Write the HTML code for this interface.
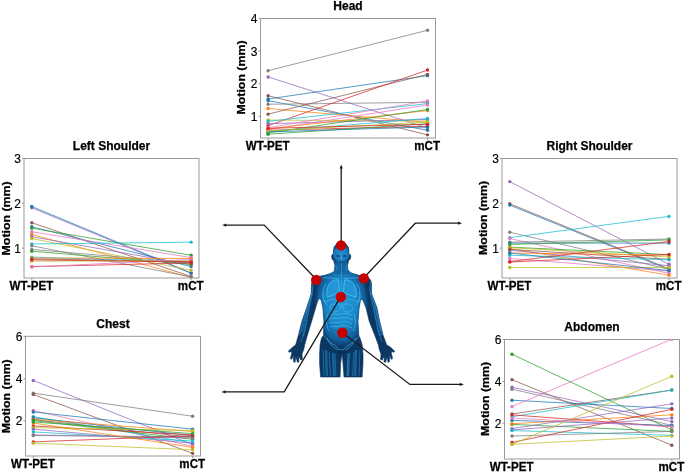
<!DOCTYPE html>
<html><head><meta charset="utf-8"><title>Motion figure</title>
<style>
html,body{margin:0;padding:0;background:#fff;}
body{width:685px;height:472px;overflow:hidden;}
svg{display:block;will-change:transform;}
text{font-family:"Liberation Sans", sans-serif;fill:#000;}
.tk{font-size:12px;stroke:#000;stroke-width:0.15px;}
.ti{font-size:12px;font-weight:bold;stroke:#000;stroke-width:0.25px;}
.xl{font-size:11.6px;font-weight:bold;stroke:#000;stroke-width:0.25px;}
.yl{font-size:10.6px;font-weight:bold;stroke:#000;stroke-width:0.25px;}
</style></head><body>
<svg width="685" height="472" viewBox="0 0 685 472">
<rect width="685" height="472" fill="#fff"/>
<defs><clipPath id="bc"><path d="M341.2,242.3 L345.5,243.5 L348.3,247 L349,251 L348.9,254.5 L350.3,254.5 L350.8,256.5 L350.2,259.5 L348.7,260 L348.2,263 L347.4,265.5 L347.8,268.5 L348.5,271 L352,273.3 L358,275 L363,276.2 L368,277 L370.8,280.5 L371.5,284.1 L371.6,293.8 L376.9,307.6 L379.7,321.4 L383.1,335.2 L386.6,344.8 L389.5,346.5 L392,348.5 L394.5,351 L394,352.3 L391.8,351.5 L391.2,353 L392.6,358.6 L391.2,359.3 L389.6,355 L389.4,361.8 L387.9,362.3 L387.2,356.5 L385.6,362.3 L384,362 L384.3,356 L382.2,360 L380.6,359.6 L381,354 L379.3,349.5 L378.3,344.8 L374.8,335.2 L369.3,321.4 L365.9,307.6 L363.1,300.7 L360.5,298.5 L360.4,300.7 L359.2,307.6 L358.0,321.4 L358.8,335.2 L360.7,340 L362.1,344.5 L363,354.1 L363,363.6 L362.1,377 L344,377 L343,363.6 L342,352.6 L340.6,363.6 L340.1,377 L320.6,377 L319.6,363.6 L319.6,354.1 L320.1,344.5 L321.5,338 L323.5,335.2 L323.9,321.4 L322.8,307.6 L321.3,300.7 L319.8,298 L317.8,300.7 L315.7,307.6 L311.6,321.4 L307.4,335.2 L304.7,344.8 L303.7,349.5 L302,354 L302.4,359.6 L300.8,360 L298.7,356 L299,362 L297.4,362.3 L295.8,356.5 L295.1,362.3 L293.6,361.8 L293.4,355 L291.8,359.3 L290.4,358.6 L291.8,353 L291.2,351.5 L289,352.3 L288.5,351 L291,348.5 L293.5,346.5 L295.7,344.8 L298.4,335.2 L301.9,321.4 L306.7,307.6 L311.2,293.8 L311.5,284.1 L312.5,280.5 L314.8,277.5 L319,276.4 L325,275.2 L330.5,273.4 L334.2,271.5 L334.6,268.5 L335.0,265.5 L334.2,263 L333.6,260 L332.2,259.5 L331.6,256.5 L332.1,254.5 L333.4,254.5 L333.4,251 L334.1,247 L336.9,243.5 Z"/></clipPath><radialGradient id="tor" cx="341.5" cy="303" r="34" gradientUnits="userSpaceOnUse" gradientTransform="translate(341.5 303) scale(0.8 1.3) translate(-341.5 -303)"><stop offset="0" stop-color="#2398d6"/><stop offset="0.55" stop-color="#1c86c8"/><stop offset="0.85" stop-color="#1466a6" stop-opacity="0.85"/><stop offset="1" stop-color="#125e9c" stop-opacity="0"/></radialGradient><radialGradient id="hd" cx="341.2" cy="254" r="10" gradientUnits="userSpaceOnUse"><stop offset="0" stop-color="#2290d0"/><stop offset="0.7" stop-color="#1a78b8"/><stop offset="1" stop-color="#135c98" stop-opacity="0"/></radialGradient><linearGradient id="armL" x1="0" y1="0" x2="1" y2="0"><stop offset="0" stop-color="#0d3e6e" stop-opacity="0"/><stop offset="0.5" stop-color="#1a6cab" stop-opacity="0.8"/><stop offset="1" stop-color="#0d3e6e" stop-opacity="0"/></linearGradient></defs>
<path d="M341.2,242.3 L345.5,243.5 L348.3,247 L349,251 L348.9,254.5 L350.3,254.5 L350.8,256.5 L350.2,259.5 L348.7,260 L348.2,263 L347.4,265.5 L347.8,268.5 L348.5,271 L352,273.3 L358,275 L363,276.2 L368,277 L370.8,280.5 L371.5,284.1 L371.6,293.8 L376.9,307.6 L379.7,321.4 L383.1,335.2 L386.6,344.8 L389.5,346.5 L392,348.5 L394.5,351 L394,352.3 L391.8,351.5 L391.2,353 L392.6,358.6 L391.2,359.3 L389.6,355 L389.4,361.8 L387.9,362.3 L387.2,356.5 L385.6,362.3 L384,362 L384.3,356 L382.2,360 L380.6,359.6 L381,354 L379.3,349.5 L378.3,344.8 L374.8,335.2 L369.3,321.4 L365.9,307.6 L363.1,300.7 L360.5,298.5 L360.4,300.7 L359.2,307.6 L358.0,321.4 L358.8,335.2 L360.7,340 L362.1,344.5 L363,354.1 L363,363.6 L362.1,377 L344,377 L343,363.6 L342,352.6 L340.6,363.6 L340.1,377 L320.6,377 L319.6,363.6 L319.6,354.1 L320.1,344.5 L321.5,338 L323.5,335.2 L323.9,321.4 L322.8,307.6 L321.3,300.7 L319.8,298 L317.8,300.7 L315.7,307.6 L311.6,321.4 L307.4,335.2 L304.7,344.8 L303.7,349.5 L302,354 L302.4,359.6 L300.8,360 L298.7,356 L299,362 L297.4,362.3 L295.8,356.5 L295.1,362.3 L293.6,361.8 L293.4,355 L291.8,359.3 L290.4,358.6 L291.8,353 L291.2,351.5 L289,352.3 L288.5,351 L291,348.5 L293.5,346.5 L295.7,344.8 L298.4,335.2 L301.9,321.4 L306.7,307.6 L311.2,293.8 L311.5,284.1 L312.5,280.5 L314.8,277.5 L319,276.4 L325,275.2 L330.5,273.4 L334.2,271.5 L334.6,268.5 L335.0,265.5 L334.2,263 L333.6,260 L332.2,259.5 L331.6,256.5 L332.1,254.5 L333.4,254.5 L333.4,251 L334.1,247 L336.9,243.5 Z" fill="#0c3762" stroke="#0a3360" stroke-width="0.6" stroke-linejoin="round"/>
<g clip-path="url(#bc)"><ellipse cx="341.5" cy="303" rx="28" ry="45" fill="url(#tor)"/><path d="M312.5,281 L311.8,294 L307.5,307.6 L302.8,321.4 L299.3,335.2" stroke="#1a6aa8" stroke-width="2" fill="none" opacity="0.8"/><path d="M370.5,281 L371.2,294 L376,307.6 L378.8,321.4 L382.2,335.2" stroke="#1a6aa8" stroke-width="2" fill="none" opacity="0.8"/><rect x="335" y="262" width="13" height="12" fill="#16649f" opacity="0.8"/><ellipse cx="341.2" cy="254" rx="9" ry="12" fill="url(#hd)"/><path d="M326,350 L327,376 M333,353 L334,376 M349,353 L348,376 M356,350 L355,376" stroke="#1b70b0" stroke-width="2.4" opacity="0.75"/><path d="M312,292 L303,336 M371,292 L380,336" stroke="#1a67a5" stroke-width="2.5" opacity="0.6"/></g>
<g clip-path="url(#bc)"><path d="M338.5,280 C333,279.5 329,282.5 327.5,288 C326.5,292 326.5,295 327,297 C331,296 335.5,294.5 339.5,292 Z" fill="#2597db" stroke="#4fd0fa" stroke-width="0.8" opacity="0.85"/><path d="M344.5,280 C350,279.5 354,282.5 355.5,288 C356.5,292 356.5,295 356,297 C352,296 347.5,294.5 343.5,292 Z" fill="#2597db" stroke="#4fd0fa" stroke-width="0.8" opacity="0.85"/></g>
<g clip-path="url(#bc)" fill="none" stroke="#3ec3f6" stroke-width="0.7" opacity="0.9"><path d="M322,278 C328,277 334,279 339,278.5 M344,278.5 C349,279 355,277 361,278"/><path d="M326,284 C322,290 322,298 326,303 M324,292 C322,297 323,301 327,305"/><path d="M357,284 C361,290 361,298 357,303 M359,292 C361,297 360,301 356,305"/><path d="M325,302 C331,298 337,299 340,302 M343,302 C346,299 352,298 358,302"/><path d="M330,306 C333,303 340,303 341,306 C341,310 338,312 334,312 C331,311 330,309 330,306 Z"/><path d="M342,305 C346,303 352,304 353,308 C352,312 348,313 344,311 Z"/><path d="M330,315 C334,313 338,315 341,314 C344,313 348,313 352,315 M329,319 C333,317 337,320 341,318 C345,317 349,318 353,320 M330,323 C334,321 338,324 341,322 C344,321 348,322 352,324 M330,327 C334,325 338,328 341,326 C344,325 348,326 352,328"/><path d="M328,314 C326,320 326,326 329,331 M354,314 C356,320 356,326 353,331"/><path d="M323,335 C327,340 332,344 336,346 C338,349 340,350 341.5,350 C343,350 345,349 347,346 C351,344 356,340 360,335"/><path d="M327,338 C330,345 335,349 338,350 M356,338 C353,345 348,349 345,350"/><path d="M341.5,262 L341.5,300" stroke-dasharray="1.2 0.8"/></g>
<g clip-path="url(#bc)" fill="none" stroke="#33b0e8" stroke-width="0.55" opacity="0.8"><path d="M323,350 L324,376 M329,352 L330.5,376 M335,354 L336,376 M348,354 L347,376 M354,352 L352.5,376 M360,350 L359,376"/><path d="M313,287 L305,330 L301,342 M369,287 L378,330 L382,342 M310,296 L302,332 M373,296 L381,332"/><path d="M337,265 L336,271 M346,265 L347,271 M333,272 C328,273 323,275 319,277 M350,272 C355,273 360,275 364,277"/><path d="M335.5,247 C337,244.5 345,244.5 347,247"/></g>
<g clip-path="url(#bc)"><path d="M336.5,256 L339.5,256 M343,256 L346,256" stroke="#072c52" stroke-width="1.4" opacity="0.8"/><path d="M340,262 L343,262" stroke="#072c52" stroke-width="1" opacity="0.7"/><path d="M341.5,256 L341.5,260" stroke="#3fb8ee" stroke-width="1" opacity="0.7"/><path d="M336,350 L341.5,358 L347,350 Z" fill="#05284a" opacity="0.5"/></g>
<polyline points="341.2,245 341.2,167" stroke="#1a1a1a" stroke-width="1.3" fill="none"/>
<polygon points="341.2,164.5 339.6,168.5 342.8,168.5" fill="#1a1a1a"/>
<polyline points="316.4,279.5 264.2,225.1 225,225.1" stroke="#1a1a1a" stroke-width="1.3" fill="none"/>
<polygon points="222.2,225.1 226.2,223.5 226.2,226.7" fill="#1a1a1a"/>
<polyline points="363.6,278 415.3,223.2 459,223.2" stroke="#1a1a1a" stroke-width="1.3" fill="none"/>
<polygon points="462,223.2 458,221.6 458,224.8" fill="#1a1a1a"/>
<polyline points="340.8,296.6 284.2,391.9 225,391.9" stroke="#1a1a1a" stroke-width="1.3" fill="none"/>
<polygon points="221.5,391.9 225.5,390.3 225.5,393.5" fill="#1a1a1a"/>
<polyline points="342.3,332.6 409.9,384.4 460,384.4" stroke="#1a1a1a" stroke-width="1.3" fill="none"/>
<polygon points="463.8,384.4 459.8,382.8 459.8,386" fill="#1a1a1a"/>
<circle cx="341.1" cy="245.4" r="5.2" fill="#c40000"/>
<circle cx="316.2" cy="279.9" r="5.2" fill="#c40000"/>
<circle cx="363.8" cy="278.4" r="5.2" fill="#c40000"/>
<circle cx="340.8" cy="297.0" r="5.2" fill="#c40000"/>
<circle cx="342.3" cy="332.7" r="5.2" fill="#c40000"/>
<rect x="260.5" y="18.5" width="175.00" height="119.50" fill="none" stroke="#999" stroke-width="1"/>
<line x1="258.50" y1="116.41" x2="260.5" y2="116.41" stroke="#999" stroke-width="1"/>
<text x="257.50" y="120.91" text-anchor="end" class="tk">1</text>
<line x1="258.50" y1="83.74" x2="260.5" y2="83.74" stroke="#999" stroke-width="1"/>
<text x="257.50" y="88.24" text-anchor="end" class="tk">2</text>
<line x1="258.50" y1="51.07" x2="260.5" y2="51.07" stroke="#999" stroke-width="1"/>
<text x="257.50" y="55.57" text-anchor="end" class="tk">3</text>
<line x1="258.50" y1="18.40" x2="260.5" y2="18.40" stroke="#999" stroke-width="1"/>
<text x="257.50" y="22.90" text-anchor="end" class="tk">4</text>
<line x1="268.1" y1="138.0" x2="268.1" y2="140.0" stroke="#999" stroke-width="1"/>
<line x1="427.5" y1="138.0" x2="427.5" y2="140.0" stroke="#999" stroke-width="1"/>
<clipPath id="cpHead"><rect x="260.5" y="18.5" width="175.00" height="119.50"/></clipPath>
<g clip-path="url(#cpHead)">
<line x1="268.1" y1="70.71" x2="427.5" y2="30.24" stroke="#7f7f7f" stroke-width="0.75"/>
<line x1="268.1" y1="76.96" x2="427.5" y2="127.96" stroke="#9467bd" stroke-width="0.75"/>
<line x1="268.1" y1="95.72" x2="427.5" y2="134.87" stroke="#8c564b" stroke-width="0.75"/>
<line x1="268.1" y1="99.00" x2="427.5" y2="75.65" stroke="#1f77b4" stroke-width="0.75"/>
<line x1="268.1" y1="100.65" x2="427.5" y2="130.26" stroke="#1f77b4" stroke-width="0.75"/>
<line x1="268.1" y1="104.27" x2="427.5" y2="102.29" stroke="#7f7f7f" stroke-width="0.75"/>
<line x1="268.1" y1="108.55" x2="427.5" y2="122.36" stroke="#ff7f0e" stroke-width="0.75"/>
<line x1="268.1" y1="114.14" x2="427.5" y2="74.33" stroke="#8c564b" stroke-width="0.75"/>
<line x1="268.1" y1="125.65" x2="427.5" y2="70.05" stroke="#d62728" stroke-width="0.75"/>
<line x1="268.1" y1="120.06" x2="427.5" y2="121.05" stroke="#bcbd22" stroke-width="0.75"/>
<line x1="268.1" y1="121.38" x2="427.5" y2="103.61" stroke="#17becf" stroke-width="0.75"/>
<line x1="268.1" y1="123.68" x2="427.5" y2="119.40" stroke="#9467bd" stroke-width="0.75"/>
<line x1="268.1" y1="127.63" x2="427.5" y2="100.98" stroke="#e377c2" stroke-width="0.75"/>
<line x1="268.1" y1="129.60" x2="427.5" y2="104.93" stroke="#e377c2" stroke-width="0.75"/>
<line x1="268.1" y1="128.94" x2="427.5" y2="110.52" stroke="#ff7f0e" stroke-width="0.75"/>
<line x1="268.1" y1="130.26" x2="427.5" y2="126.31" stroke="#d62728" stroke-width="0.75"/>
<line x1="268.1" y1="131.58" x2="427.5" y2="118.42" stroke="#17becf" stroke-width="0.75"/>
<line x1="268.1" y1="132.89" x2="427.5" y2="109.53" stroke="#2ca02c" stroke-width="0.75"/>
<line x1="268.1" y1="134.21" x2="427.5" y2="123.68" stroke="#2ca02c" stroke-width="0.75"/>
<line x1="268.1" y1="131.91" x2="427.5" y2="126.97" stroke="#1f77b4" stroke-width="0.75"/>
<line x1="268.1" y1="130.92" x2="427.5" y2="122.03" stroke="#bcbd22" stroke-width="0.75"/>
<line x1="268.1" y1="128.29" x2="427.5" y2="124.34" stroke="#d62728" stroke-width="0.75"/>
<circle cx="268.1" cy="70.71" r="1.7" fill="#7f7f7f"/>
<circle cx="427.5" cy="30.24" r="1.7" fill="#7f7f7f"/>
<circle cx="268.1" cy="76.96" r="1.7" fill="#9467bd"/>
<circle cx="427.5" cy="127.96" r="1.7" fill="#9467bd"/>
<circle cx="268.1" cy="95.72" r="1.7" fill="#8c564b"/>
<circle cx="427.5" cy="134.87" r="1.7" fill="#8c564b"/>
<circle cx="268.1" cy="99.00" r="1.7" fill="#1f77b4"/>
<circle cx="427.5" cy="75.65" r="1.7" fill="#1f77b4"/>
<circle cx="268.1" cy="100.65" r="1.7" fill="#1f77b4"/>
<circle cx="427.5" cy="130.26" r="1.7" fill="#1f77b4"/>
<circle cx="268.1" cy="104.27" r="1.7" fill="#7f7f7f"/>
<circle cx="427.5" cy="102.29" r="1.7" fill="#7f7f7f"/>
<circle cx="268.1" cy="108.55" r="1.7" fill="#ff7f0e"/>
<circle cx="427.5" cy="122.36" r="1.7" fill="#ff7f0e"/>
<circle cx="268.1" cy="114.14" r="1.7" fill="#8c564b"/>
<circle cx="427.5" cy="74.33" r="1.7" fill="#8c564b"/>
<circle cx="268.1" cy="125.65" r="1.7" fill="#d62728"/>
<circle cx="427.5" cy="70.05" r="1.7" fill="#d62728"/>
<circle cx="268.1" cy="120.06" r="1.7" fill="#bcbd22"/>
<circle cx="427.5" cy="121.05" r="1.7" fill="#bcbd22"/>
<circle cx="268.1" cy="121.38" r="1.7" fill="#17becf"/>
<circle cx="427.5" cy="103.61" r="1.7" fill="#17becf"/>
<circle cx="268.1" cy="123.68" r="1.7" fill="#9467bd"/>
<circle cx="427.5" cy="119.40" r="1.7" fill="#9467bd"/>
<circle cx="268.1" cy="127.63" r="1.7" fill="#e377c2"/>
<circle cx="427.5" cy="100.98" r="1.7" fill="#e377c2"/>
<circle cx="268.1" cy="129.60" r="1.7" fill="#e377c2"/>
<circle cx="427.5" cy="104.93" r="1.7" fill="#e377c2"/>
<circle cx="268.1" cy="128.94" r="1.7" fill="#ff7f0e"/>
<circle cx="427.5" cy="110.52" r="1.7" fill="#ff7f0e"/>
<circle cx="268.1" cy="130.26" r="1.7" fill="#d62728"/>
<circle cx="427.5" cy="126.31" r="1.7" fill="#d62728"/>
<circle cx="268.1" cy="131.58" r="1.7" fill="#17becf"/>
<circle cx="427.5" cy="118.42" r="1.7" fill="#17becf"/>
<circle cx="268.1" cy="132.89" r="1.7" fill="#2ca02c"/>
<circle cx="427.5" cy="109.53" r="1.7" fill="#2ca02c"/>
<circle cx="268.1" cy="134.21" r="1.7" fill="#2ca02c"/>
<circle cx="427.5" cy="123.68" r="1.7" fill="#2ca02c"/>
<circle cx="268.1" cy="131.91" r="1.7" fill="#1f77b4"/>
<circle cx="427.5" cy="126.97" r="1.7" fill="#1f77b4"/>
<circle cx="268.1" cy="130.92" r="1.7" fill="#bcbd22"/>
<circle cx="427.5" cy="122.03" r="1.7" fill="#bcbd22"/>
<circle cx="268.1" cy="128.29" r="1.7" fill="#d62728"/>
<circle cx="427.5" cy="124.34" r="1.7" fill="#d62728"/>
</g>
<text x="348.00" y="10.0" text-anchor="middle" class="ti">Head</text>
<text x="0" y="0" text-anchor="middle" class="xl" transform="translate(267.70,149.7) scale(1,1.13)">WT-PET</text>
<text x="0" y="0" text-anchor="middle" class="xl" transform="translate(427.10,149.7) scale(1,1.13)">mCT</text>
<text x="0" y="0" text-anchor="middle" class="yl" transform="translate(245.4,77.50) rotate(-90) scale(1.165,1)">Motion (mm)</text><rect x="24.0" y="158.5" width="175.00" height="119.50" fill="none" stroke="#999" stroke-width="1"/>
<line x1="22.00" y1="248.10" x2="24.0" y2="248.10" stroke="#999" stroke-width="1"/>
<text x="21.00" y="252.60" text-anchor="end" class="tk">1</text>
<line x1="22.00" y1="203.25" x2="24.0" y2="203.25" stroke="#999" stroke-width="1"/>
<text x="21.00" y="207.75" text-anchor="end" class="tk">2</text>
<line x1="22.00" y1="158.40" x2="24.0" y2="158.40" stroke="#999" stroke-width="1"/>
<text x="21.00" y="162.90" text-anchor="end" class="tk">3</text>
<line x1="31.8" y1="278.0" x2="31.8" y2="280.0" stroke="#999" stroke-width="1"/>
<line x1="191.1" y1="278.0" x2="191.1" y2="280.0" stroke="#999" stroke-width="1"/>
<clipPath id="cpLeftShoulder"><rect x="24.0" y="158.5" width="175.00" height="119.50"/></clipPath>
<g clip-path="url(#cpLeftShoulder)">
<line x1="31.8" y1="207.82" x2="191.1" y2="273.36" stroke="#9467bd" stroke-width="0.75"/>
<line x1="31.8" y1="206.46" x2="191.1" y2="272.91" stroke="#1f77b4" stroke-width="0.75"/>
<line x1="31.8" y1="222.74" x2="191.1" y2="276.52" stroke="#8c564b" stroke-width="0.75"/>
<line x1="31.8" y1="226.80" x2="191.1" y2="266.58" stroke="#1f77b4" stroke-width="0.75"/>
<line x1="31.8" y1="228.16" x2="191.1" y2="255.28" stroke="#2ca02c" stroke-width="0.75"/>
<line x1="31.8" y1="231.78" x2="191.1" y2="257.54" stroke="#e377c2" stroke-width="0.75"/>
<line x1="31.8" y1="234.49" x2="191.1" y2="277.43" stroke="#ff7f0e" stroke-width="0.75"/>
<line x1="31.8" y1="236.75" x2="191.1" y2="264.77" stroke="#9467bd" stroke-width="0.75"/>
<line x1="31.8" y1="238.56" x2="191.1" y2="270.20" stroke="#bcbd22" stroke-width="0.75"/>
<line x1="31.8" y1="243.98" x2="191.1" y2="242.17" stroke="#17becf" stroke-width="0.75"/>
<line x1="31.8" y1="245.79" x2="191.1" y2="276.98" stroke="#7f7f7f" stroke-width="0.75"/>
<line x1="31.8" y1="249.40" x2="191.1" y2="262.96" stroke="#7f7f7f" stroke-width="0.75"/>
<line x1="31.8" y1="251.21" x2="191.1" y2="264.32" stroke="#2ca02c" stroke-width="0.75"/>
<line x1="31.8" y1="257.09" x2="191.1" y2="262.06" stroke="#17becf" stroke-width="0.75"/>
<line x1="31.8" y1="257.99" x2="191.1" y2="258.44" stroke="#ff7f0e" stroke-width="0.75"/>
<line x1="31.8" y1="258.90" x2="191.1" y2="261.61" stroke="#8c564b" stroke-width="0.75"/>
<line x1="31.8" y1="261.16" x2="191.1" y2="260.70" stroke="#bcbd22" stroke-width="0.75"/>
<line x1="31.8" y1="266.58" x2="191.1" y2="262.96" stroke="#d62728" stroke-width="0.75"/>
<line x1="31.8" y1="267.03" x2="191.1" y2="259.35" stroke="#e377c2" stroke-width="0.75"/>
<line x1="31.8" y1="259.80" x2="191.1" y2="262.06" stroke="#d62728" stroke-width="0.75"/>
<circle cx="31.8" cy="207.82" r="1.7" fill="#9467bd"/>
<circle cx="191.1" cy="273.36" r="1.7" fill="#9467bd"/>
<circle cx="31.8" cy="206.46" r="1.7" fill="#1f77b4"/>
<circle cx="191.1" cy="272.91" r="1.7" fill="#1f77b4"/>
<circle cx="31.8" cy="222.74" r="1.7" fill="#8c564b"/>
<circle cx="191.1" cy="276.52" r="1.7" fill="#8c564b"/>
<circle cx="31.8" cy="226.80" r="1.7" fill="#1f77b4"/>
<circle cx="191.1" cy="266.58" r="1.7" fill="#1f77b4"/>
<circle cx="31.8" cy="228.16" r="1.7" fill="#2ca02c"/>
<circle cx="191.1" cy="255.28" r="1.7" fill="#2ca02c"/>
<circle cx="31.8" cy="231.78" r="1.7" fill="#e377c2"/>
<circle cx="191.1" cy="257.54" r="1.7" fill="#e377c2"/>
<circle cx="31.8" cy="234.49" r="1.7" fill="#ff7f0e"/>
<circle cx="191.1" cy="277.43" r="1.7" fill="#ff7f0e"/>
<circle cx="31.8" cy="236.75" r="1.7" fill="#9467bd"/>
<circle cx="191.1" cy="264.77" r="1.7" fill="#9467bd"/>
<circle cx="31.8" cy="238.56" r="1.7" fill="#bcbd22"/>
<circle cx="191.1" cy="270.20" r="1.7" fill="#bcbd22"/>
<circle cx="31.8" cy="243.98" r="1.7" fill="#17becf"/>
<circle cx="191.1" cy="242.17" r="1.7" fill="#17becf"/>
<circle cx="31.8" cy="245.79" r="1.7" fill="#7f7f7f"/>
<circle cx="191.1" cy="276.98" r="1.7" fill="#7f7f7f"/>
<circle cx="31.8" cy="249.40" r="1.7" fill="#7f7f7f"/>
<circle cx="191.1" cy="262.96" r="1.7" fill="#7f7f7f"/>
<circle cx="31.8" cy="251.21" r="1.7" fill="#2ca02c"/>
<circle cx="191.1" cy="264.32" r="1.7" fill="#2ca02c"/>
<circle cx="31.8" cy="257.09" r="1.7" fill="#17becf"/>
<circle cx="191.1" cy="262.06" r="1.7" fill="#17becf"/>
<circle cx="31.8" cy="257.99" r="1.7" fill="#ff7f0e"/>
<circle cx="191.1" cy="258.44" r="1.7" fill="#ff7f0e"/>
<circle cx="31.8" cy="258.90" r="1.7" fill="#8c564b"/>
<circle cx="191.1" cy="261.61" r="1.7" fill="#8c564b"/>
<circle cx="31.8" cy="261.16" r="1.7" fill="#bcbd22"/>
<circle cx="191.1" cy="260.70" r="1.7" fill="#bcbd22"/>
<circle cx="31.8" cy="266.58" r="1.7" fill="#d62728"/>
<circle cx="191.1" cy="262.96" r="1.7" fill="#d62728"/>
<circle cx="31.8" cy="267.03" r="1.7" fill="#e377c2"/>
<circle cx="191.1" cy="259.35" r="1.7" fill="#e377c2"/>
<circle cx="31.8" cy="259.80" r="1.7" fill="#d62728"/>
<circle cx="191.1" cy="262.06" r="1.7" fill="#d62728"/>
</g>
<text x="111.50" y="149.9" text-anchor="middle" class="ti">Left Shoulder</text>
<text x="0" y="0" text-anchor="middle" class="xl" transform="translate(31.40,289.6) scale(1,1.13)">WT-PET</text>
<text x="0" y="0" text-anchor="middle" class="xl" transform="translate(190.70,289.6) scale(1,1.13)">mCT</text>
<text x="0" y="0" text-anchor="middle" class="yl" transform="translate(9.5,218.40) rotate(-90) scale(1.165,1)">Motion (mm)</text><rect x="502.0" y="158.5" width="175.00" height="119.50" fill="none" stroke="#999" stroke-width="1"/>
<line x1="500.00" y1="248.10" x2="502.0" y2="248.10" stroke="#999" stroke-width="1"/>
<text x="499.00" y="252.60" text-anchor="end" class="tk">1</text>
<line x1="500.00" y1="203.25" x2="502.0" y2="203.25" stroke="#999" stroke-width="1"/>
<text x="499.00" y="207.75" text-anchor="end" class="tk">2</text>
<line x1="500.00" y1="158.40" x2="502.0" y2="158.40" stroke="#999" stroke-width="1"/>
<text x="499.00" y="162.90" text-anchor="end" class="tk">3</text>
<line x1="509.8" y1="278.0" x2="509.8" y2="280.0" stroke="#999" stroke-width="1"/>
<line x1="669.0" y1="278.0" x2="669.0" y2="280.0" stroke="#999" stroke-width="1"/>
<clipPath id="cpRightShoulder"><rect x="502.0" y="158.5" width="175.00" height="119.50"/></clipPath>
<g clip-path="url(#cpRightShoulder)">
<line x1="509.8" y1="181.60" x2="669.0" y2="264.32" stroke="#9467bd" stroke-width="0.75"/>
<line x1="509.8" y1="203.75" x2="669.0" y2="268.84" stroke="#8c564b" stroke-width="0.75"/>
<line x1="509.8" y1="205.11" x2="669.0" y2="269.52" stroke="#1f77b4" stroke-width="0.75"/>
<line x1="509.8" y1="232.23" x2="669.0" y2="269.29" stroke="#7f7f7f" stroke-width="0.75"/>
<line x1="509.8" y1="237.65" x2="669.0" y2="216.41" stroke="#17becf" stroke-width="0.75"/>
<line x1="509.8" y1="238.56" x2="669.0" y2="273.36" stroke="#e377c2" stroke-width="0.75"/>
<line x1="509.8" y1="242.17" x2="669.0" y2="239.01" stroke="#7f7f7f" stroke-width="0.75"/>
<line x1="509.8" y1="243.08" x2="669.0" y2="243.08" stroke="#1f77b4" stroke-width="0.75"/>
<line x1="509.8" y1="244.43" x2="669.0" y2="239.91" stroke="#2ca02c" stroke-width="0.75"/>
<line x1="509.8" y1="247.14" x2="669.0" y2="254.60" stroke="#2ca02c" stroke-width="0.75"/>
<line x1="509.8" y1="247.60" x2="669.0" y2="257.09" stroke="#bcbd22" stroke-width="0.75"/>
<line x1="509.8" y1="248.50" x2="669.0" y2="275.17" stroke="#ff7f0e" stroke-width="0.75"/>
<line x1="509.8" y1="250.31" x2="669.0" y2="265.68" stroke="#9467bd" stroke-width="0.75"/>
<line x1="509.8" y1="249.40" x2="669.0" y2="259.35" stroke="#8c564b" stroke-width="0.75"/>
<line x1="509.8" y1="253.02" x2="669.0" y2="255.05" stroke="#ff7f0e" stroke-width="0.75"/>
<line x1="509.8" y1="255.28" x2="669.0" y2="259.80" stroke="#17becf" stroke-width="0.75"/>
<line x1="509.8" y1="258.44" x2="669.0" y2="271.10" stroke="#e377c2" stroke-width="0.75"/>
<line x1="509.8" y1="261.61" x2="669.0" y2="241.49" stroke="#d62728" stroke-width="0.75"/>
<line x1="509.8" y1="262.06" x2="669.0" y2="254.38" stroke="#d62728" stroke-width="0.75"/>
<line x1="509.8" y1="267.48" x2="669.0" y2="267.48" stroke="#bcbd22" stroke-width="0.75"/>
<line x1="509.8" y1="253.02" x2="669.0" y2="270.65" stroke="#1f77b4" stroke-width="0.75"/>
<circle cx="509.8" cy="181.60" r="1.7" fill="#9467bd"/>
<circle cx="669.0" cy="264.32" r="1.7" fill="#9467bd"/>
<circle cx="509.8" cy="203.75" r="1.7" fill="#8c564b"/>
<circle cx="669.0" cy="268.84" r="1.7" fill="#8c564b"/>
<circle cx="509.8" cy="205.11" r="1.7" fill="#1f77b4"/>
<circle cx="669.0" cy="269.52" r="1.7" fill="#1f77b4"/>
<circle cx="509.8" cy="232.23" r="1.7" fill="#7f7f7f"/>
<circle cx="669.0" cy="269.29" r="1.7" fill="#7f7f7f"/>
<circle cx="509.8" cy="237.65" r="1.7" fill="#17becf"/>
<circle cx="669.0" cy="216.41" r="1.7" fill="#17becf"/>
<circle cx="509.8" cy="238.56" r="1.7" fill="#e377c2"/>
<circle cx="669.0" cy="273.36" r="1.7" fill="#e377c2"/>
<circle cx="509.8" cy="242.17" r="1.7" fill="#7f7f7f"/>
<circle cx="669.0" cy="239.01" r="1.7" fill="#7f7f7f"/>
<circle cx="509.8" cy="243.08" r="1.7" fill="#1f77b4"/>
<circle cx="669.0" cy="243.08" r="1.7" fill="#1f77b4"/>
<circle cx="509.8" cy="244.43" r="1.7" fill="#2ca02c"/>
<circle cx="669.0" cy="239.91" r="1.7" fill="#2ca02c"/>
<circle cx="509.8" cy="247.14" r="1.7" fill="#2ca02c"/>
<circle cx="669.0" cy="254.60" r="1.7" fill="#2ca02c"/>
<circle cx="509.8" cy="247.60" r="1.7" fill="#bcbd22"/>
<circle cx="669.0" cy="257.09" r="1.7" fill="#bcbd22"/>
<circle cx="509.8" cy="248.50" r="1.7" fill="#ff7f0e"/>
<circle cx="669.0" cy="275.17" r="1.7" fill="#ff7f0e"/>
<circle cx="509.8" cy="250.31" r="1.7" fill="#9467bd"/>
<circle cx="669.0" cy="265.68" r="1.7" fill="#9467bd"/>
<circle cx="509.8" cy="249.40" r="1.7" fill="#8c564b"/>
<circle cx="669.0" cy="259.35" r="1.7" fill="#8c564b"/>
<circle cx="509.8" cy="253.02" r="1.7" fill="#ff7f0e"/>
<circle cx="669.0" cy="255.05" r="1.7" fill="#ff7f0e"/>
<circle cx="509.8" cy="255.28" r="1.7" fill="#17becf"/>
<circle cx="669.0" cy="259.80" r="1.7" fill="#17becf"/>
<circle cx="509.8" cy="258.44" r="1.7" fill="#e377c2"/>
<circle cx="669.0" cy="271.10" r="1.7" fill="#e377c2"/>
<circle cx="509.8" cy="261.61" r="1.7" fill="#d62728"/>
<circle cx="669.0" cy="241.49" r="1.7" fill="#d62728"/>
<circle cx="509.8" cy="262.06" r="1.7" fill="#d62728"/>
<circle cx="669.0" cy="254.38" r="1.7" fill="#d62728"/>
<circle cx="509.8" cy="267.48" r="1.7" fill="#bcbd22"/>
<circle cx="669.0" cy="267.48" r="1.7" fill="#bcbd22"/>
<circle cx="509.8" cy="253.02" r="1.7" fill="#1f77b4"/>
<circle cx="669.0" cy="270.65" r="1.7" fill="#1f77b4"/>
</g>
<text x="589.50" y="149.9" text-anchor="middle" class="ti">Right Shoulder</text>
<text x="0" y="0" text-anchor="middle" class="xl" transform="translate(509.40,289.6) scale(1,1.13)">WT-PET</text>
<text x="0" y="0" text-anchor="middle" class="xl" transform="translate(668.60,289.6) scale(1,1.13)">mCT</text>
<text x="0" y="0" text-anchor="middle" class="yl" transform="translate(487.2,217.90) rotate(-90) scale(1.165,1)">Motion (mm)</text><rect x="25.5" y="336.3" width="175.00" height="119.70" fill="none" stroke="#999" stroke-width="1"/>
<line x1="23.50" y1="420.82" x2="25.5" y2="420.82" stroke="#999" stroke-width="1"/>
<text x="22.50" y="425.32" text-anchor="end" class="tk">2</text>
<line x1="23.50" y1="378.76" x2="25.5" y2="378.76" stroke="#999" stroke-width="1"/>
<text x="22.50" y="383.26" text-anchor="end" class="tk">4</text>
<line x1="23.50" y1="336.70" x2="25.5" y2="336.70" stroke="#999" stroke-width="1"/>
<text x="22.50" y="341.20" text-anchor="end" class="tk">6</text>
<line x1="33.3" y1="456.0" x2="33.3" y2="458.0" stroke="#999" stroke-width="1"/>
<line x1="192.6" y1="456.0" x2="192.6" y2="458.0" stroke="#999" stroke-width="1"/>
<clipPath id="cpChest"><rect x="25.5" y="336.3" width="175.00" height="119.70"/></clipPath>
<g clip-path="url(#cpChest)">
<line x1="33.3" y1="380.41" x2="192.6" y2="444.64" stroke="#9467bd" stroke-width="0.75"/>
<line x1="33.3" y1="393.13" x2="192.6" y2="416.24" stroke="#7f7f7f" stroke-width="0.75"/>
<line x1="33.3" y1="394.40" x2="192.6" y2="453.34" stroke="#8c564b" stroke-width="0.75"/>
<line x1="33.3" y1="410.51" x2="192.6" y2="446.34" stroke="#e377c2" stroke-width="0.75"/>
<line x1="33.3" y1="412.00" x2="192.6" y2="429.17" stroke="#1f77b4" stroke-width="0.75"/>
<line x1="33.3" y1="416.66" x2="192.6" y2="442.95" stroke="#17becf" stroke-width="0.75"/>
<line x1="33.3" y1="417.72" x2="192.6" y2="435.74" stroke="#1f77b4" stroke-width="0.75"/>
<line x1="33.3" y1="419.20" x2="192.6" y2="431.50" stroke="#ff7f0e" stroke-width="0.75"/>
<line x1="33.3" y1="419.63" x2="192.6" y2="437.44" stroke="#8c564b" stroke-width="0.75"/>
<line x1="33.3" y1="420.48" x2="192.6" y2="439.34" stroke="#2ca02c" stroke-width="0.75"/>
<line x1="33.3" y1="425.99" x2="192.6" y2="434.89" stroke="#d62728" stroke-width="0.75"/>
<line x1="33.3" y1="427.68" x2="192.6" y2="430.44" stroke="#bcbd22" stroke-width="0.75"/>
<line x1="33.3" y1="429.17" x2="192.6" y2="443.16" stroke="#9467bd" stroke-width="0.75"/>
<line x1="33.3" y1="431.92" x2="192.6" y2="441.04" stroke="#17becf" stroke-width="0.75"/>
<line x1="33.3" y1="434.89" x2="192.6" y2="437.86" stroke="#9467bd" stroke-width="0.75"/>
<line x1="33.3" y1="435.53" x2="192.6" y2="436.80" stroke="#7f7f7f" stroke-width="0.75"/>
<line x1="33.3" y1="441.89" x2="192.6" y2="435.74" stroke="#d62728" stroke-width="0.75"/>
<line x1="33.3" y1="443.16" x2="192.6" y2="449.73" stroke="#bcbd22" stroke-width="0.75"/>
<line x1="33.3" y1="423.02" x2="192.6" y2="447.40" stroke="#ff7f0e" stroke-width="0.75"/>
<line x1="33.3" y1="421.96" x2="192.6" y2="433.62" stroke="#2ca02c" stroke-width="0.75"/>
<circle cx="33.3" cy="380.41" r="1.7" fill="#9467bd"/>
<circle cx="192.6" cy="444.64" r="1.7" fill="#9467bd"/>
<circle cx="33.3" cy="393.13" r="1.7" fill="#7f7f7f"/>
<circle cx="192.6" cy="416.24" r="1.7" fill="#7f7f7f"/>
<circle cx="33.3" cy="394.40" r="1.7" fill="#8c564b"/>
<circle cx="192.6" cy="453.34" r="1.7" fill="#8c564b"/>
<circle cx="33.3" cy="410.51" r="1.7" fill="#e377c2"/>
<circle cx="192.6" cy="446.34" r="1.7" fill="#e377c2"/>
<circle cx="33.3" cy="412.00" r="1.7" fill="#1f77b4"/>
<circle cx="192.6" cy="429.17" r="1.7" fill="#1f77b4"/>
<circle cx="33.3" cy="416.66" r="1.7" fill="#17becf"/>
<circle cx="192.6" cy="442.95" r="1.7" fill="#17becf"/>
<circle cx="33.3" cy="417.72" r="1.7" fill="#1f77b4"/>
<circle cx="192.6" cy="435.74" r="1.7" fill="#1f77b4"/>
<circle cx="33.3" cy="419.20" r="1.7" fill="#ff7f0e"/>
<circle cx="192.6" cy="431.50" r="1.7" fill="#ff7f0e"/>
<circle cx="33.3" cy="419.63" r="1.7" fill="#8c564b"/>
<circle cx="192.6" cy="437.44" r="1.7" fill="#8c564b"/>
<circle cx="33.3" cy="420.48" r="1.7" fill="#2ca02c"/>
<circle cx="192.6" cy="439.34" r="1.7" fill="#2ca02c"/>
<circle cx="33.3" cy="425.99" r="1.7" fill="#d62728"/>
<circle cx="192.6" cy="434.89" r="1.7" fill="#d62728"/>
<circle cx="33.3" cy="427.68" r="1.7" fill="#bcbd22"/>
<circle cx="192.6" cy="430.44" r="1.7" fill="#bcbd22"/>
<circle cx="33.3" cy="429.17" r="1.7" fill="#9467bd"/>
<circle cx="192.6" cy="443.16" r="1.7" fill="#9467bd"/>
<circle cx="33.3" cy="431.92" r="1.7" fill="#17becf"/>
<circle cx="192.6" cy="441.04" r="1.7" fill="#17becf"/>
<circle cx="33.3" cy="434.89" r="1.7" fill="#9467bd"/>
<circle cx="192.6" cy="437.86" r="1.7" fill="#9467bd"/>
<circle cx="33.3" cy="435.53" r="1.7" fill="#7f7f7f"/>
<circle cx="192.6" cy="436.80" r="1.7" fill="#7f7f7f"/>
<circle cx="33.3" cy="441.89" r="1.7" fill="#d62728"/>
<circle cx="192.6" cy="435.74" r="1.7" fill="#d62728"/>
<circle cx="33.3" cy="443.16" r="1.7" fill="#bcbd22"/>
<circle cx="192.6" cy="449.73" r="1.7" fill="#bcbd22"/>
<circle cx="33.3" cy="423.02" r="1.7" fill="#ff7f0e"/>
<circle cx="192.6" cy="447.40" r="1.7" fill="#ff7f0e"/>
<circle cx="33.3" cy="421.96" r="1.7" fill="#2ca02c"/>
<circle cx="192.6" cy="433.62" r="1.7" fill="#2ca02c"/>
</g>
<text x="113.00" y="328.1" text-anchor="middle" class="ti">Chest</text>
<text x="0" y="0" text-anchor="middle" class="xl" transform="translate(32.90,467.9) scale(1,1.13)">WT-PET</text>
<text x="0" y="0" text-anchor="middle" class="xl" transform="translate(192.20,467.9) scale(1,1.13)">mCT</text>
<text x="0" y="0" text-anchor="middle" class="yl" transform="translate(9.5,396.30) rotate(-90) scale(1.165,1)">Motion (mm)</text><rect x="504.5" y="339.5" width="175.00" height="119.50" fill="none" stroke="#999" stroke-width="1"/>
<line x1="502.50" y1="423.20" x2="504.5" y2="423.20" stroke="#999" stroke-width="1"/>
<text x="501.50" y="427.70" text-anchor="end" class="tk">2</text>
<line x1="502.50" y1="381.40" x2="504.5" y2="381.40" stroke="#999" stroke-width="1"/>
<text x="501.50" y="385.90" text-anchor="end" class="tk">4</text>
<line x1="502.50" y1="339.60" x2="504.5" y2="339.60" stroke="#999" stroke-width="1"/>
<text x="501.50" y="344.10" text-anchor="end" class="tk">6</text>
<line x1="512.0" y1="459.0" x2="512.0" y2="461.0" stroke="#999" stroke-width="1"/>
<line x1="671.8" y1="459.0" x2="671.8" y2="461.0" stroke="#999" stroke-width="1"/>
<clipPath id="cpAbdomen"><rect x="504.5" y="339.5" width="175.00" height="119.50"/></clipPath>
<g clip-path="url(#cpAbdomen)">
<line x1="512.0" y1="354.23" x2="671.8" y2="429.91" stroke="#2ca02c" stroke-width="0.75"/>
<line x1="512.0" y1="379.67" x2="671.8" y2="445.18" stroke="#8c564b" stroke-width="0.75"/>
<line x1="512.0" y1="387.30" x2="671.8" y2="421.64" stroke="#9467bd" stroke-width="0.75"/>
<line x1="512.0" y1="389.21" x2="671.8" y2="425.25" stroke="#7f7f7f" stroke-width="0.75"/>
<line x1="512.0" y1="400.23" x2="671.8" y2="408.50" stroke="#1f77b4" stroke-width="0.75"/>
<line x1="512.0" y1="406.59" x2="671.8" y2="339.18" stroke="#e377c2" stroke-width="0.75"/>
<line x1="512.0" y1="414.01" x2="671.8" y2="390.06" stroke="#8c564b" stroke-width="0.75"/>
<line x1="512.0" y1="416.77" x2="671.8" y2="390.06" stroke="#17becf" stroke-width="0.75"/>
<line x1="512.0" y1="414.86" x2="671.8" y2="426.73" stroke="#d62728" stroke-width="0.75"/>
<line x1="512.0" y1="420.37" x2="671.8" y2="425.46" stroke="#1f77b4" stroke-width="0.75"/>
<line x1="512.0" y1="424.40" x2="671.8" y2="431.40" stroke="#2ca02c" stroke-width="0.75"/>
<line x1="512.0" y1="423.76" x2="671.8" y2="414.86" stroke="#ff7f0e" stroke-width="0.75"/>
<line x1="512.0" y1="428.64" x2="671.8" y2="403.84" stroke="#9467bd" stroke-width="0.75"/>
<line x1="512.0" y1="429.91" x2="671.8" y2="418.04" stroke="#9467bd" stroke-width="0.75"/>
<line x1="512.0" y1="430.55" x2="671.8" y2="435.42" stroke="#17becf" stroke-width="0.75"/>
<line x1="512.0" y1="436.06" x2="671.8" y2="431.40" stroke="#7f7f7f" stroke-width="0.75"/>
<line x1="512.0" y1="442.42" x2="671.8" y2="409.35" stroke="#d62728" stroke-width="0.75"/>
<line x1="512.0" y1="444.33" x2="671.8" y2="376.28" stroke="#bcbd22" stroke-width="0.75"/>
<line x1="512.0" y1="444.33" x2="671.8" y2="436.06" stroke="#bcbd22" stroke-width="0.75"/>
<line x1="512.0" y1="418.04" x2="671.8" y2="426.73" stroke="#e377c2" stroke-width="0.75"/>
<circle cx="512.0" cy="354.23" r="1.7" fill="#2ca02c"/>
<circle cx="671.8" cy="429.91" r="1.7" fill="#2ca02c"/>
<circle cx="512.0" cy="379.67" r="1.7" fill="#8c564b"/>
<circle cx="671.8" cy="445.18" r="1.7" fill="#8c564b"/>
<circle cx="512.0" cy="387.30" r="1.7" fill="#9467bd"/>
<circle cx="671.8" cy="421.64" r="1.7" fill="#9467bd"/>
<circle cx="512.0" cy="389.21" r="1.7" fill="#7f7f7f"/>
<circle cx="671.8" cy="425.25" r="1.7" fill="#7f7f7f"/>
<circle cx="512.0" cy="400.23" r="1.7" fill="#1f77b4"/>
<circle cx="671.8" cy="408.50" r="1.7" fill="#1f77b4"/>
<circle cx="512.0" cy="406.59" r="1.7" fill="#e377c2"/>
<circle cx="671.8" cy="339.18" r="1.7" fill="#e377c2"/>
<circle cx="512.0" cy="414.01" r="1.7" fill="#8c564b"/>
<circle cx="671.8" cy="390.06" r="1.7" fill="#8c564b"/>
<circle cx="512.0" cy="416.77" r="1.7" fill="#17becf"/>
<circle cx="671.8" cy="390.06" r="1.7" fill="#17becf"/>
<circle cx="512.0" cy="414.86" r="1.7" fill="#d62728"/>
<circle cx="671.8" cy="426.73" r="1.7" fill="#d62728"/>
<circle cx="512.0" cy="420.37" r="1.7" fill="#1f77b4"/>
<circle cx="671.8" cy="425.46" r="1.7" fill="#1f77b4"/>
<circle cx="512.0" cy="424.40" r="1.7" fill="#2ca02c"/>
<circle cx="671.8" cy="431.40" r="1.7" fill="#2ca02c"/>
<circle cx="512.0" cy="423.76" r="1.7" fill="#ff7f0e"/>
<circle cx="671.8" cy="414.86" r="1.7" fill="#ff7f0e"/>
<circle cx="512.0" cy="428.64" r="1.7" fill="#9467bd"/>
<circle cx="671.8" cy="403.84" r="1.7" fill="#9467bd"/>
<circle cx="512.0" cy="429.91" r="1.7" fill="#9467bd"/>
<circle cx="671.8" cy="418.04" r="1.7" fill="#9467bd"/>
<circle cx="512.0" cy="430.55" r="1.7" fill="#17becf"/>
<circle cx="671.8" cy="435.42" r="1.7" fill="#17becf"/>
<circle cx="512.0" cy="436.06" r="1.7" fill="#7f7f7f"/>
<circle cx="671.8" cy="431.40" r="1.7" fill="#7f7f7f"/>
<circle cx="512.0" cy="442.42" r="1.7" fill="#d62728"/>
<circle cx="671.8" cy="409.35" r="1.7" fill="#d62728"/>
<circle cx="512.0" cy="444.33" r="1.7" fill="#bcbd22"/>
<circle cx="671.8" cy="376.28" r="1.7" fill="#bcbd22"/>
<circle cx="512.0" cy="444.33" r="1.7" fill="#bcbd22"/>
<circle cx="671.8" cy="436.06" r="1.7" fill="#bcbd22"/>
<circle cx="512.0" cy="418.04" r="1.7" fill="#e377c2"/>
<circle cx="671.8" cy="426.73" r="1.7" fill="#e377c2"/>
</g>
<text x="592.00" y="330.6" text-anchor="middle" class="ti">Abdomen</text>
<text x="0" y="0" text-anchor="middle" class="xl" transform="translate(511.60,470.8) scale(1,1.13)">WT-PET</text>
<text x="0" y="0" text-anchor="middle" class="xl" transform="translate(671.40,470.8) scale(1,1.13)">mCT</text>
<text x="0" y="0" text-anchor="middle" class="yl" transform="translate(489.3,398.90) rotate(-90) scale(1.165,1)">Motion (mm)</text>
</svg>
</body></html>
